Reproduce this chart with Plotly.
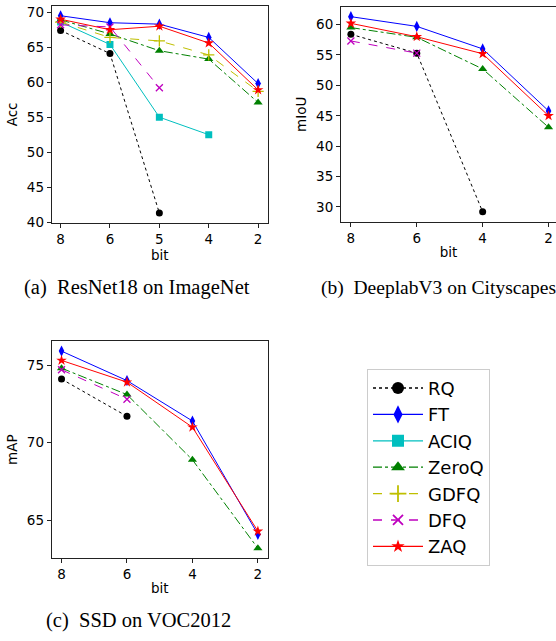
import plotly.graph_objects as go

# ---------------- data ----------------
methods = ["RQ", "FT", "ACIQ", "ZeroQ", "GDFQ", "DFQ", "ZAQ"]

bits_a = ["8", "6", "5", "4", "2"]
acc_RQ = [67.4, 64.1, 41.3]
acc_FT = [69.5, 68.5, 68.3, 66.4, 59.8]
acc_ACIQ = [68.6, 65.4, 55.0, 52.5]
acc_ACIQ_bits = ["8", "6", "5", "4"]
acc_ZeroQ = [68.9, 66.9, 64.5, 63.3, 57.1]
acc_GDFQ = [68.6, 66.4, 65.9, 63.9, 58.7]
acc_DFQ = [68.2, 67.9, 59.2]
acc_ZAQ = [69.0, 67.5, 68.0, 65.6, 58.9]

bits_b = ["8", "6", "4", "2"]
miou_RQ = [58.4, 55.3, 29.2]
miou_FT = [61.3, 59.7, 56.0, 45.8]
miou_ZeroQ = [59.5, 57.9, 52.7, 43.1]
miou_DFQ = [57.3, 55.3]
miou_ZAQ = [60.2, 58.0, 55.2, 45.0]

bits_c = ["8", "6", "4", "2"]
map_RQ = [74.1, 71.7]
map_FT = [75.9, 74.0, 71.4, 64.1]
map_ZeroQ = [74.8, 73.1, 68.9, 63.2]
map_DFQ = [74.7, 72.8]
map_ZAQ = [75.3, 73.9, 71.0, 64.3]

captions = ["(a)\u00a0\u00a0ResNet18 on ImageNet",
            "(b)\u00a0\u00a0DeeplabV3 on Cityscapes",
            "(c)\u00a0\u00a0SSD on VOC2012"]

# ---------------- styles ----------------
style = {
    "RQ":    dict(color="#000000", dash="dot",     symbol="circle",       size=7,  lsize=12),
    "FT":    dict(color="#0000ff", dash="solid",   symbol="diamond-tall", size=8,  lsize=13),
    "ACIQ":  dict(color="#00bfbf", dash="solid",   symbol="square",       size=7,  lsize=12),
    "ZeroQ": dict(color="#008000", dash="dashdot", symbol="triangle-up",  size=8,  lsize=12),
    "GDFQ":  dict(color="#bfbf00", dash="dash",    symbol="cross-thin",   size=8,  lsize=12),
    "DFQ":   dict(color="#bf00bf", dash="dash",    symbol="x-thin",       size=7,  lsize=10),
    "ZAQ":   dict(color="#ff0000", dash="solid",   symbol="star",         size=8,  lsize=10),
}

W, H = 556, 641
fig = go.Figure()

def add(name, bits, xs_cat, ys, xa, ya):
    s = style[name]
    xs = [bits.index(b) for b in xs_cat]
    fig.add_trace(go.Scatter(
        x=xs, y=ys, mode="lines+markers", name=name, showlegend=False,
        xaxis=xa, yaxis=ya,
        line=dict(color=s["color"], dash=s["dash"], width=1),
        marker=dict(symbol=s["symbol"], size=s["size"], color=s["color"],
                    line=dict(color=s["color"], width=1.3 if "thin" in s["symbol"] else 0)),
    ))

# subplot (a)
add("RQ", bits_a, bits_a[:3], acc_RQ, "x", "y")
add("FT", bits_a, bits_a, acc_FT, "x", "y")
add("ACIQ", bits_a, acc_ACIQ_bits, acc_ACIQ, "x", "y")
add("ZeroQ", bits_a, bits_a, acc_ZeroQ, "x", "y")
add("GDFQ", bits_a, bits_a, acc_GDFQ, "x", "y")
add("DFQ", bits_a, bits_a[:3], acc_DFQ, "x", "y")
add("ZAQ", bits_a, bits_a, acc_ZAQ, "x", "y")

# subplot (b)
add("RQ", bits_b, bits_b[:3], miou_RQ, "x2", "y2")
add("FT", bits_b, bits_b, miou_FT, "x2", "y2")
add("ZeroQ", bits_b, bits_b, miou_ZeroQ, "x2", "y2")
add("DFQ", bits_b, bits_b[:2], miou_DFQ, "x2", "y2")
add("ZAQ", bits_b, bits_b, miou_ZAQ, "x2", "y2")

# subplot (c)
add("RQ", bits_c, bits_c[:2], map_RQ, "x3", "y3")
add("FT", bits_c, bits_c, map_FT, "x3", "y3")
add("ZeroQ", bits_c, bits_c, map_ZeroQ, "x3", "y3")
add("DFQ", bits_c, bits_c[:2], map_DFQ, "x3", "y3")
add("ZAQ", bits_c, bits_c, map_ZAQ, "x3", "y3")

# legend entries
for m in methods:
    s = style[m]
    fig.add_trace(go.Scatter(
        x=[None], y=[None], mode="lines+markers", name=m, showlegend=True,
        xaxis="x3", yaxis="y3", legendgroup=m,
        line=dict(color=s["color"], dash=s["dash"], width=1.3),
        marker=dict(symbol=s["symbol"], size=s["lsize"], color=s["color"],
                    line=dict(color=s["color"], width=1.8 if "thin" in s["symbol"] else 0)),
    ))

def px_x(a, b):
    return [a / W, min(b / W, 1.0)]

def px_y(top, bottom):
    return [1 - bottom / H, 1 - top / H]

tickfont = dict(family="DejaVu Sans", size=13.5, color="black")
titlefont = dict(family="DejaVu Sans", size=13.5, color="black")

def xaxis(domain, rng, bits, anchor):
    return dict(domain=domain, range=rng, anchor=anchor,
                tickmode="array", tickvals=list(range(len(bits))), ticktext=bits,
                showgrid=False, zeroline=False, showline=True, linecolor="#222222", linewidth=1,
                mirror=True, ticks="outside", ticklen=4, tickcolor="#222222",
                tickfont=tickfont, title=dict(text="bit", font=titlefont, standoff=2))

def yaxis(domain, rng, tvals, title, anchor, mirror=True):
    return dict(domain=domain, range=rng, anchor=anchor,
                tickmode="array", tickvals=tvals,
                showgrid=False, zeroline=False, showline=True, linecolor="#222222", linewidth=1,
                mirror=mirror, ticks="outside", ticklen=4, tickcolor="#222222",
                tickfont=tickfont, title=dict(text=title, font=titlefont, standoff=6))

fig.update_layout(
    width=W, height=H, margin=dict(l=0, r=0, t=0, b=0),
    paper_bgcolor="white", plot_bgcolor="white",
    xaxis=xaxis(px_x(51.7, 268), [-0.18, 4.2], bits_a, "y"),
    yaxis=yaxis(px_y(4, 224), [39.9, 70.9], [40, 45, 50, 55, 60, 65, 70], "Acc", "x"),
    xaxis2=xaxis(px_x(341, 556), [-0.15, 3.113], bits_b, "y2"),
    yaxis2=yaxis(px_y(5, 222.7), [27.6, 62.9], [30, 35, 40, 45, 50, 55, 60], "mIoU", "x2", mirror=False),
    xaxis3=xaxis(px_x(51.7, 267.7), [-0.15, 3.15], bits_c, "y3"),
    yaxis3=yaxis(px_y(344, 564), [62.57, 76.54], [65, 70, 75], "mAP", "x3"),
    legend=dict(x=367 / W, y=1 - 372 / H, xanchor="left", yanchor="top",
                font=dict(family="DejaVu Sans", size=18, color="black"),
                bgcolor="white", bordercolor="#cccccc", borderwidth=1,
                tracegroupgap=0, itemwidth=50),
    showlegend=True,
)

cap_sizes = [20.5, 19.5, 20.5]
for text, cx, cy, fs in zip(captions, [136.7, 438.0, 138.3], [290, 290, 627], cap_sizes):
    fig.add_annotation(text=text, x=cx / W, y=1 - cy / H, xref="paper", yref="paper",
                       showarrow=False, font=dict(family="Liberation Serif", size=fs, color="black"),
                       xanchor="center", yanchor="middle")

fig.write_html("out.html", config={"displayModeBar": False},
               post_script="document.body.style.margin='0';document.body.style.overflow='hidden';")
